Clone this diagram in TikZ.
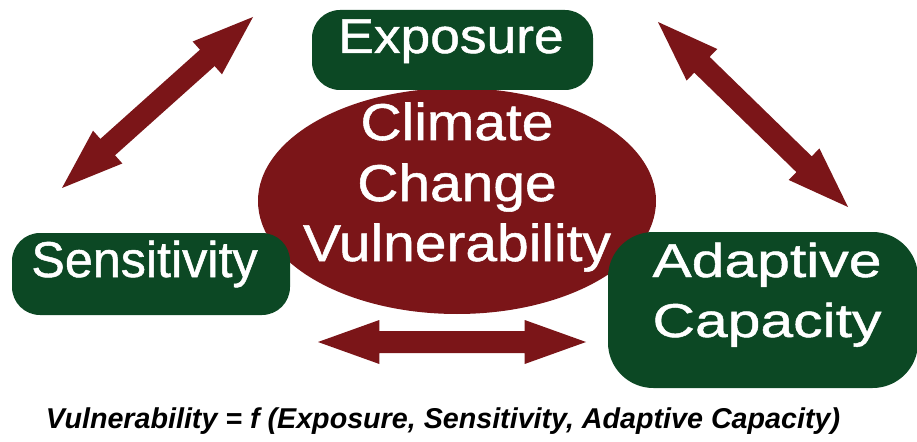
\documentclass[tikz,border=0pt]{standalone}
\usepackage{fontspec}
\setmainfont{Liberation Sans}
\newfontfamily\centrefont[FakeStretch=1.1,FakeBold=1]{Liberation Sans}
\newfontfamily\expofont[FakeStretch=1.09,FakeBold=1]{Liberation Sans}
\newfontfamily\sensfont[FakeBold=1]{Liberation Sans}
\newfontfamily\adaptfont[FakeStretch=1.24,FakeBold=1]{Liberation Sans}
\usetikzlibrary{shapes.geometric,calc}

\definecolor{arrowred}{RGB}{123,21,24}
\definecolor{boxgreen}{RGB}{12,72,36}

% block double arrow between two named points
\newcommand\headlen{46pt}
\newcommand\headhalf{16.5pt}
\newcommand\shafthalf{8.25pt}
\newcommand\dualarrow[2]{%
  \fill[arrowred] (#1)
    -- ($(#1)!\headlen!(#2)!\headhalf!90:(#2)$)
    -- ($(#1)!\headlen!(#2)!\shafthalf!90:(#2)$)
    -- ($(#2)!\headlen!(#1)!\shafthalf!-90:(#1)$)
    -- ($(#2)!\headlen!(#1)!\headhalf!-90:(#1)$)
    -- (#2)
    -- ($(#2)!\headlen!(#1)!\headhalf!90:(#1)$)
    -- ($(#2)!\headlen!(#1)!\shafthalf!90:(#1)$)
    -- ($(#1)!\headlen!(#2)!\shafthalf!-90:(#2)$)
    -- ($(#1)!\headlen!(#2)!\headhalf!-90:(#2)$)
    -- cycle;}

\begin{document}
\begin{tikzpicture}[x=0.75pt,y=-0.75pt,
  greenbox/.style={fill=boxgreen, rectangle, inner sep=0pt, rounded corners=21pt},
  boxtext/.style={text=white, anchor=base, inner sep=0pt},
]
\useasboundingbox (0,0) rectangle (917,442);

% arrow end points
\coordinate (ul1) at (62,188);
\coordinate (ul2) at (253,17);
\coordinate (ur1) at (658,22);
\coordinate (ur2) at (848,207);
\coordinate (bt1) at (318,342);
\coordinate (bt2) at (586,342);

\dualarrow{ul1}{ul2}
\dualarrow{ur1}{ur2}
\dualarrow{bt1}{bt2}

% central ellipse
\node[ellipse, fill=arrowred, inner sep=0pt,
      minimum width=298.5pt, minimum height=169.5pt] (cv) at (457,201) {};

% factor boxes
\node[greenbox, minimum width=210.75pt, minimum height=60pt] (expbox) at (452.5,50) {};
\node[greenbox, minimum width=208.5pt, minimum height=61.5pt] (sensbox) at (151,274) {};
\node[greenbox, rounded corners=34pt, minimum width=232.5pt, minimum height=117pt] (adaptbox) at (763,310) {};

% labels
\node[boxtext, font=\centrefont\fontsize{38.8pt}{45pt}\selectfont] (cvline1) at (457,140) {Climate};
\node[boxtext, font=\centrefont\fontsize{38.8pt}{45pt}\selectfont] (cvline2) at (457,201) {Change};
\node[boxtext, font=\centrefont\fontsize{38.8pt}{45pt}\selectfont] (cvline3) at (457,261) {Vulnerability};

\node[boxtext, font=\expofont\fontsize{36.7pt}{42pt}\selectfont] (exptext) at (451,53) {Exposure};
\node[boxtext, font=\sensfont\fontsize{37.7pt}{42pt}\selectfont] (senstext) at (144.5,277) {Sensitivity};
\node[boxtext, font=\adaptfont\fontsize{35.6pt}{42pt}\selectfont] (adapttext1) at (767,277) {Adaptive};
\node[boxtext, font=\adaptfont\fontsize{35.6pt}{42pt}\selectfont] (adapttext2) at (767,337) {Capacity};

% formula
\node[anchor=base, inner sep=0pt, font=\bfseries\itshape\fontsize{21.5pt}{24pt}\selectfont] (formula) at (443,428)
  {Vulnerability = f (Exposure, Sensitivity, Adaptive Capacity)};
\end{tikzpicture}
\end{document}
